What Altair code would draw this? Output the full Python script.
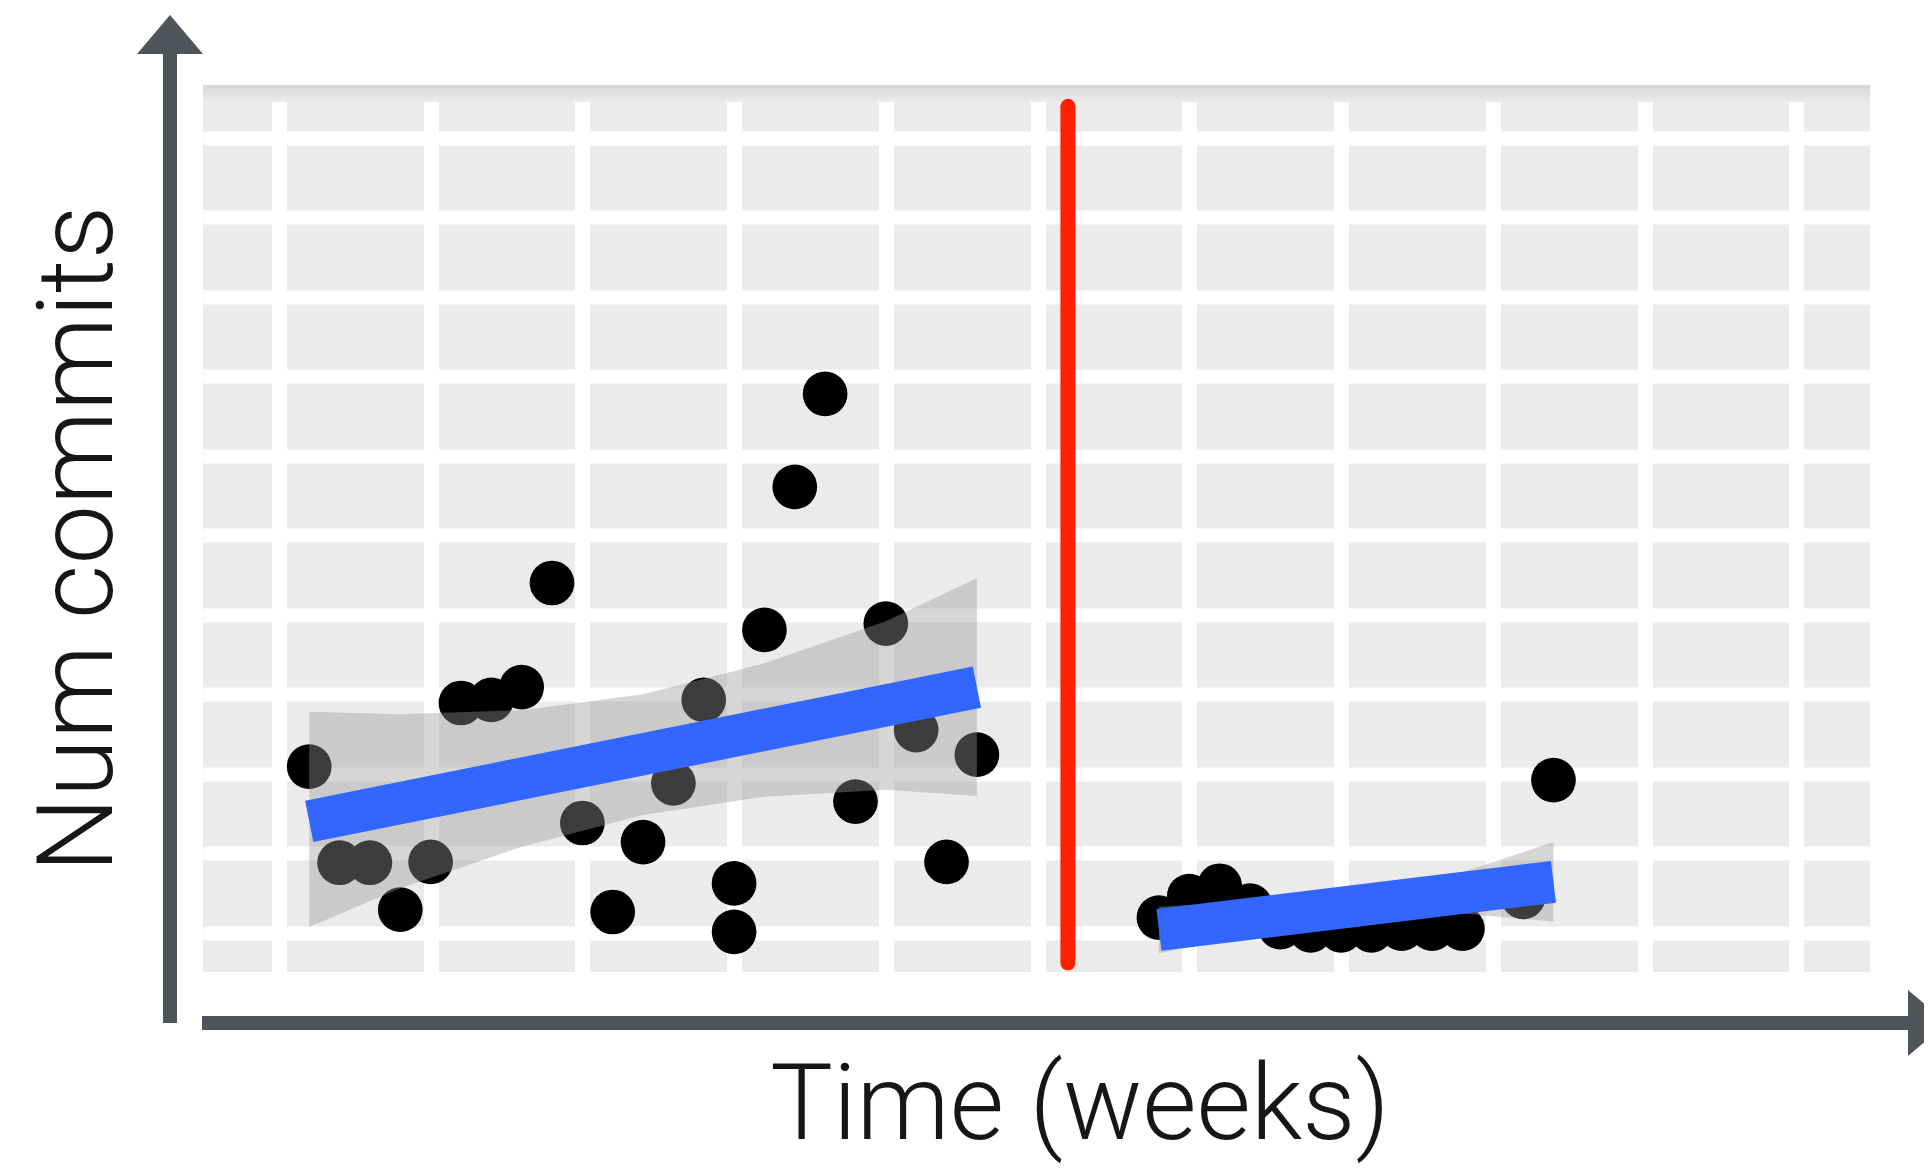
import altair as alt
import pandas as pd

# ---- data ----
before_weeks = [1, 2, 3, 4, 5, 6, 7, 8, 9, 10, 11, 12, 13, 14, 15, 15, 16, 17, 18, 19, 20, 21, 22, 23]
before_commits = [20.9, 8.8, 8.8, 2.9, 8.9, 28.9, 29.3, 30.9, 44.0, 13.8, 2.6, 11.4, 18.8, 29.3,
                  6.2, 0.1, 38.1, 56.1, 67.8, 16.5, 38.9, 25.5, 8.9, 22.4]
after_weeks = [29, 30, 31, 32, 33, 34, 35, 36, 37, 38, 39, 41, 42]
after_commits = [1.9, 4.6, 5.9, 3.4, 0.7, 0.3, 0.3, 0.3, 0.5, 0.5, 0.5, 4.5, 19.2]

fit_before_weeks = [1, 23]
fit_before = [14.0, 30.9]
fit_after_weeks = [29, 42]
fit_after = [0.35, 6.4]

band_before_weeks = [1, 4, 8, 12, 16, 20, 23]
band_before_low = [0.7, 5.6, 10.8, 14.8, 17.1, 18.0, 17.2]
band_before_high = [27.8, 27.5, 28.0, 30.0, 33.9, 39.2, 44.6]
band_after_weeks = [29, 33, 36, 39, 42]
band_after_low = [-2.6, 0.4, 1.8, 2.4, 1.4]
band_after_high = [3.3, 4.0, 5.4, 7.6, 11.4]

cutoff_week = 26
x_grid = [0, 5, 10, 15, 20, 25, 30, 35, 40, 45, 50]
y_grid = [0, 10, 20, 30, 40, 50, 60, 70, 80, 90, 100]

# ---- tables ----
points = pd.DataFrame({"week": before_weeks + after_weeks,
                       "commits": before_commits + after_commits})
fits = pd.DataFrame({"week": fit_before_weeks + fit_after_weeks,
                     "commits": fit_before + fit_after,
                     "seg": ["before"] * 2 + ["after"] * 2})
bands = pd.DataFrame({"week": band_before_weeks + band_after_weeks,
                      "low": band_before_low + band_after_low,
                      "high": band_before_high + band_after_high,
                      "seg": ["before"] * len(band_before_weeks) + ["after"] * len(band_after_weeks)})
one = pd.DataFrame({"a": [0]})

W, H = 1667, 887
AX = "#50555c"

xs = alt.Scale(domain=[-2.5, 52.43], nice=False, zero=False)
ys = alt.Scale(domain=[-4.95, 106.67], nice=False, zero=False)
xax = alt.Axis(values=x_grid, grid=True, gridColor="white", gridWidth=15, gridOpacity=1,
               labels=False, ticks=False, domain=False, title=None)
yax = alt.Axis(values=y_grid, grid=True, gridColor="white", gridWidth=14, gridOpacity=1,
               labels=False, ticks=False, domain=False, title=None)

pts = alt.Chart(points).mark_circle(size=2000, color="black", opacity=1).encode(
    x=alt.X("week:Q", scale=xs, axis=xax),
    y=alt.Y("commits:Q", scale=ys, axis=yax),
)

band = alt.Chart(bands).mark_area(color="#999999", opacity=0.4).encode(
    x=alt.X("week:Q", scale=xs),
    y=alt.Y("low:Q", scale=ys),
    y2="high:Q",
    detail="seg:N",
)

line = alt.Chart(fits).mark_line(color="#3366FF", strokeWidth=42, strokeCap="butt").encode(
    x=alt.X("week:Q", scale=xs),
    y=alt.Y("commits:Q", scale=ys),
    detail="seg:N",
)

strip = alt.Chart(one).mark_rect(
    color=alt.Gradient(gradient="linear",
                       stops=[alt.GradientStop(color="#d6d6d6", offset=0),
                              alt.GradientStop(color="#ebebeb", offset=1)],
                       x1=0, x2=0, y1=0, y2=1)
).encode(x=alt.value(0), x2=alt.value(W), y=alt.value(0), y2=alt.value(17))

red = alt.Chart(one).mark_rule(color="#ff2200", strokeWidth=15, strokeCap="round").encode(
    x=alt.datum(cutoff_week, scale=xs),
    y=alt.datum(104.0, scale=ys),
    y2=alt.datum(-3.8),
)

y_shaft = alt.Chart(one).mark_rule(color=AX, strokeWidth=14, strokeCap="butt").encode(
    x=alt.value(-33), y=alt.value(938), y2=alt.value(-31))
y_head = alt.Chart(one).mark_point(shape="M-1,0.59L1,0.59L0,-0.59Z", size=4356, filled=True,
                                   color=AX, opacity=1, strokeWidth=0).encode(
    x=alt.value(-33), y=alt.value(-50.5))
x_shaft = alt.Chart(one).mark_rule(color=AX, strokeWidth=14, strokeCap="butt").encode(
    x=alt.value(-1), x2=alt.value(1706), y=alt.value(938))
x_head = alt.Chart(one).mark_point(shape="M-0.59,-1L0.59,0L-0.59,1Z", size=4356, filled=True,
                                   color=AX, opacity=1, strokeWidth=0).encode(
    x=alt.value(1724.5), y=alt.value(938))

x_title = alt.Chart(one).mark_text(text="Time (weeks)", font="Roboto", fontWeight=300, fontSize=105,
                                   color="#161616", align="center", baseline="alphabetic").encode(
    x=alt.value(877), y=alt.value(1054))
y_title = alt.Chart(one).mark_text(text="Num commits", font="Roboto", fontWeight=300, fontSize=106,
                                   color="#161616", align="center", baseline="alphabetic",
                                   angle=270).encode(
    x=alt.value(-91), y=alt.value(454))

chart = alt.layer(pts, band, line, strip, red, y_shaft, y_head, x_shaft, x_head, x_title, y_title).properties(
    width=W, height=H,
    autosize=alt.AutoSizeParams(type="none"),
    padding={"left": 195, "top": 77, "right": 54, "bottom": 195},
    background="white",
).configure_view(fill="#ebebeb", strokeWidth=0)

chart.save("out.html", embed_options={"renderer": "svg", "actions": False})
